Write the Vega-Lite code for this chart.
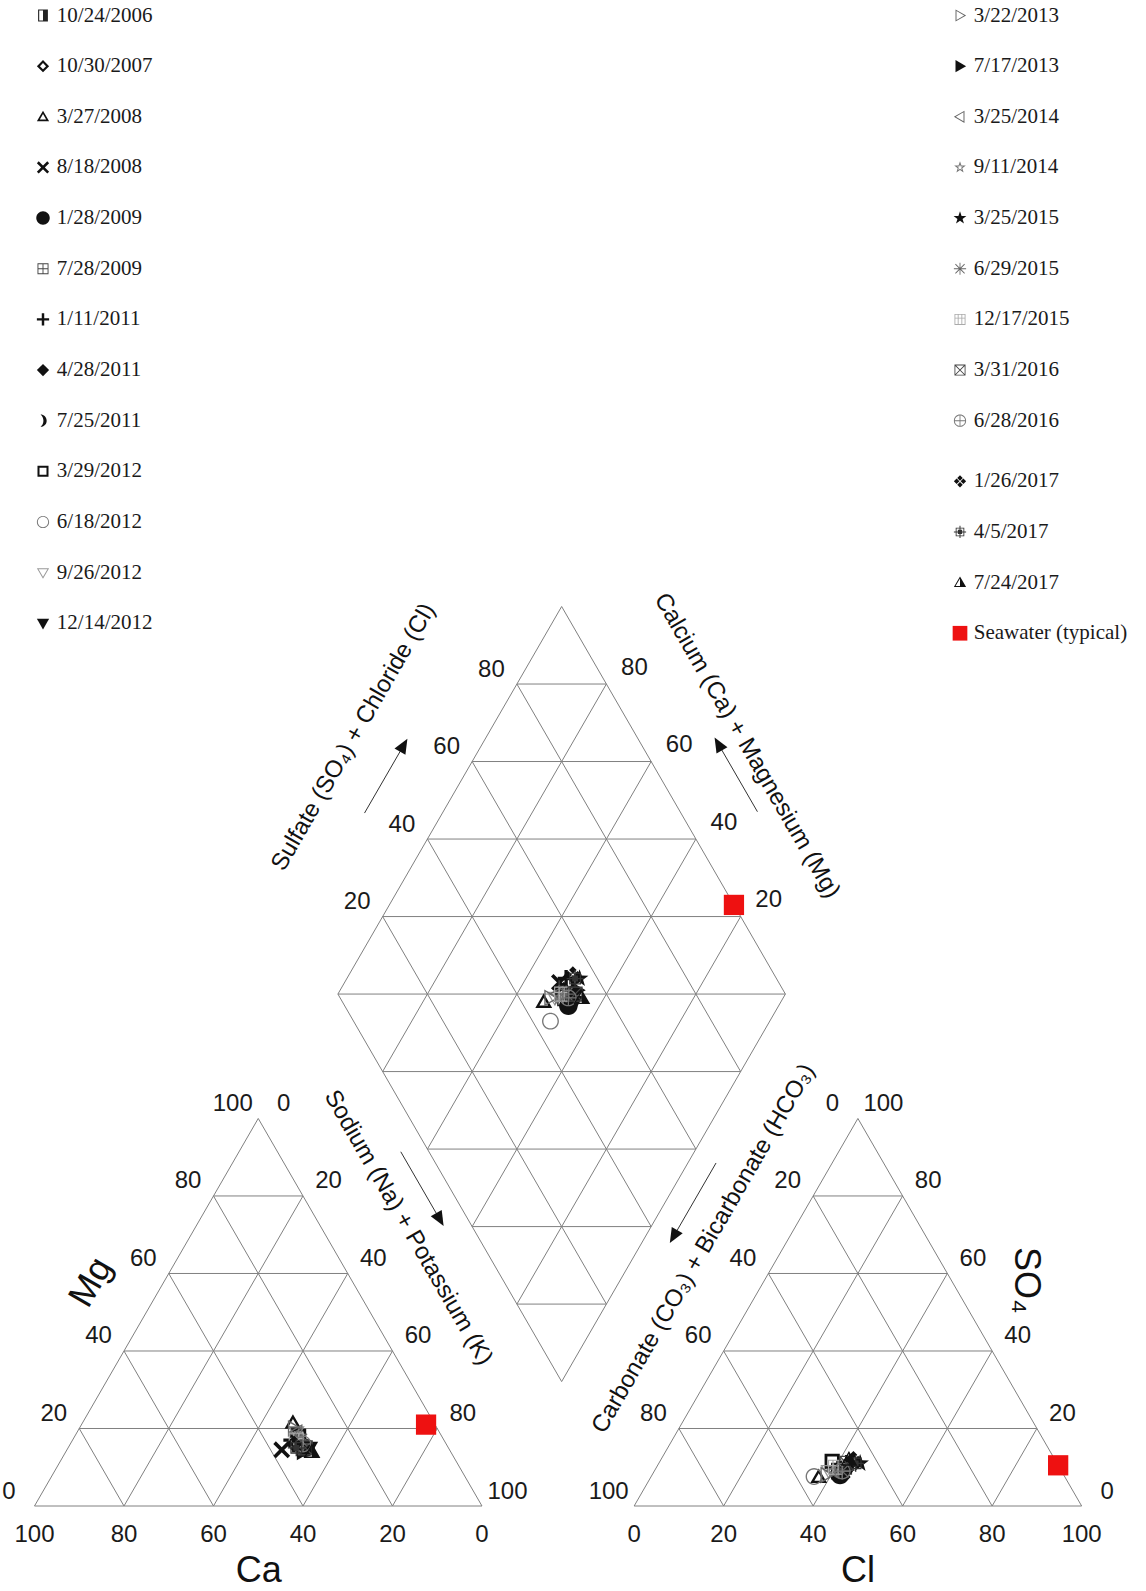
{
"$schema": "https://vega.github.io/schema/vega-lite/v6.json",
"width": 1146, "height": 1591,
"autosize": {"type": "none"},
"padding": 0,
"background": "white",
"config": {
  "view": {"stroke": null},
  "legend": {"columns": 1, "rowPadding": 28.65, "labelFont": "Liberation Serif", "labelFontSize": 21, "labelColor": "#1a1a1a", "symbolSize": 150, "symbolStrokeWidth": 0, "labelOffset": 3.3, "padding": 0, "labelLimit": 400, "symbolOpacity": 1, "gridAlign": "each"}
},
"resolve": {"scale": {"shape": "independent", "fill": "independent"}, "legend": {"shape": "independent", "fill": "independent"}},
"datasets": {
  "samples": [
    {"sample":"10/24/2006","ca":33,"mg":16,"na":51,"cl":41,"so4":9,"hco3":50},
    {"sample":"10/30/2007","ca":33,"mg":17,"na":50,"cl":41,"so4":10,"hco3":49},
    {"sample":"3/27/2008","ca":31.5,"mg":21.5,"na":47,"cl":37.5,"so4":7.5,"hco3":55},
    {"sample":"8/18/2008","ca":37.5,"mg":14.5,"na":48,"cl":42,"so4":9,"hco3":49},
    {"sample":"1/28/2009","ca":32,"mg":15,"na":53,"cl":42,"so4":8,"hco3":50},
    {"sample":"7/28/2009","ca":32,"mg":18,"na":50,"cl":42,"so4":10,"hco3":48},
    {"sample":"1/11/2011","ca":34,"mg":17,"na":49,"cl":42,"so4":11,"hco3":47},
    {"sample":"4/28/2011","ca":32,"mg":16,"na":52,"cl":42,"so4":10,"hco3":48},
    {"sample":"7/25/2011","ca":32,"mg":17,"na":51,"cl":43,"so4":10,"hco3":47},
    {"sample":"3/29/2012","ca":32,"mg":18,"na":50,"cl":38.5,"so4":11.5,"hco3":50},
    {"sample":"6/18/2012","ca":33,"mg":16,"na":51,"cl":36.4,"so4":7.6,"hco3":56},
    {"sample":"9/26/2012","ca":32,"mg":19,"na":49,"cl":39,"so4":9,"hco3":52},
    {"sample":"12/14/2012","ca":31,"mg":15,"na":54,"cl":42,"so4":10,"hco3":48},
    {"sample":"3/22/2013","ca":32,"mg":20,"na":48,"cl":39,"so4":8,"hco3":53},
    {"sample":"7/17/2013","ca":33,"mg":14,"na":53,"cl":43,"so4":11,"hco3":46},
    {"sample":"3/25/2014","ca":32,"mg":19,"na":49,"cl":40,"so4":9,"hco3":51},
    {"sample":"9/11/2014","ca":32,"mg":18,"na":50,"cl":40,"so4":9,"hco3":51},
    {"sample":"3/25/2015","ca":32,"mg":16,"na":52,"cl":45,"so4":11,"hco3":44},
    {"sample":"6/29/2015","ca":32,"mg":17,"na":51,"cl":42,"so4":9,"hco3":49},
    {"sample":"12/17/2015","ca":33,"mg":17,"na":50,"cl":40,"so4":10,"hco3":50},
    {"sample":"3/31/2016","ca":32,"mg":15,"na":53,"cl":42,"so4":11,"hco3":47},
    {"sample":"6/28/2016","ca":32,"mg":16,"na":52,"cl":42,"so4":9,"hco3":49},
    {"sample":"1/26/2017","ca":34,"mg":16,"na":50,"cl":43,"so4":12,"hco3":45},
    {"sample":"4/5/2017","ca":34,"mg":15,"na":51,"cl":44,"so4":11,"hco3":45},
    {"sample":"7/24/2017","ca":31,"mg":14,"na":55,"cl":42,"so4":12,"hco3":46},
    {"sample":"Seawater (typical)","ca":2,"mg":21,"na":77,"cl":89.5,"so4":10.5,"hco3":0}
  ],
  "grid": [
    {"p":"cat","f":"h","k":0},{"p":"cat","f":"h","k":20},{"p":"cat","f":"h","k":40},{"p":"cat","f":"h","k":60},{"p":"cat","f":"h","k":80},
    {"p":"cat","f":"a","k":0},{"p":"cat","f":"a","k":20},{"p":"cat","f":"a","k":40},{"p":"cat","f":"a","k":60},{"p":"cat","f":"a","k":80},
    {"p":"cat","f":"b","k":0},{"p":"cat","f":"b","k":20},{"p":"cat","f":"b","k":40},{"p":"cat","f":"b","k":60},{"p":"cat","f":"b","k":80},
    {"p":"an","f":"h","k":0},{"p":"an","f":"h","k":20},{"p":"an","f":"h","k":40},{"p":"an","f":"h","k":60},{"p":"an","f":"h","k":80},
    {"p":"an","f":"a","k":0},{"p":"an","f":"a","k":20},{"p":"an","f":"a","k":40},{"p":"an","f":"a","k":60},{"p":"an","f":"a","k":80},
    {"p":"an","f":"b","k":0},{"p":"an","f":"b","k":20},{"p":"an","f":"b","k":40},{"p":"an","f":"b","k":60},{"p":"an","f":"b","k":80},
    {"p":"dia","f":"u","k":0},{"p":"dia","f":"u","k":20},{"p":"dia","f":"u","k":40},{"p":"dia","f":"u","k":60},{"p":"dia","f":"u","k":80},{"p":"dia","f":"u","k":100},
    {"p":"dia","f":"v","k":0},{"p":"dia","f":"v","k":20},{"p":"dia","f":"v","k":40},{"p":"dia","f":"v","k":60},{"p":"dia","f":"v","k":80},{"p":"dia","f":"v","k":100},
    {"p":"dia","f":"dh","k":20},{"p":"dia","f":"dh","k":40},{"p":"dia","f":"dh","k":60},{"p":"dia","f":"dh","k":80},{"p":"dia","f":"dh","k":100},
    {"p":"dia","f":"dh","k":120},{"p":"dia","f":"dh","k":140},{"p":"dia","f":"dh","k":160},{"p":"dia","f":"dh","k":180}
  ],
  "ticks": [
    {"s":"catL","k":0},{"s":"catL","k":20},{"s":"catL","k":40},{"s":"catL","k":60},{"s":"catL","k":80},{"s":"catL","k":100},
    {"s":"catR","k":0},{"s":"catR","k":20},{"s":"catR","k":40},{"s":"catR","k":60},{"s":"catR","k":80},{"s":"catR","k":100},
    {"s":"catB","k":0},{"s":"catB","k":20},{"s":"catB","k":40},{"s":"catB","k":60},{"s":"catB","k":80},{"s":"catB","k":100},
    {"s":"anL","k":0},{"s":"anL","k":20},{"s":"anL","k":40},{"s":"anL","k":60},{"s":"anL","k":80},{"s":"anL","k":100},
    {"s":"anR","k":0},{"s":"anR","k":20},{"s":"anR","k":40},{"s":"anR","k":60},{"s":"anR","k":80},{"s":"anR","k":100},
    {"s":"anB","k":0},{"s":"anB","k":20},{"s":"anB","k":40},{"s":"anB","k":60},{"s":"anB","k":80},{"s":"anB","k":100},
    {"s":"diaL","k":20},{"s":"diaL","k":40},{"s":"diaL","k":60},{"s":"diaL","k":80},
    {"s":"diaR","k":20},{"s":"diaR","k":40},{"s":"diaR","k":60},{"s":"diaR","k":80}
  ]
},
"layer": [
  {
    "data": {"name": "grid"},
    "transform": [
      {"filter": "datum.p != 'dia'"},
      {"calculate": "datum.p == 'an' ? 134 : 0", "as": "ox"},
      {"calculate": "datum.f == 'h' ? datum.ox + 0.5*datum.k : datum.f == 'a' ? datum.ox + 100 - datum.k : datum.ox + datum.k", "as": "x1"},
      {"calculate": "datum.f == 'h' ? 0.8660254*datum.k : 0", "as": "y1"},
      {"calculate": "datum.f == 'h' ? datum.ox + 100 - 0.5*datum.k : datum.f == 'a' ? datum.ox + 50 - 0.5*datum.k : datum.ox + 50 + 0.5*datum.k", "as": "x2"},
      {"calculate": "datum.f == 'h' ? 0.8660254*datum.k : 0.8660254*(100 - datum.k)", "as": "y2"}
    ],
    "mark": {"type": "rule", "color": "#808080", "strokeWidth": 1},
    "encoding": {
      "x": {"field": "x1", "type": "quantitative", "scale": {"domain": [-7.709, 248.38], "nice": false, "zero": false}, "axis": null},
      "y": {"field": "y1", "type": "quantitative", "scale": {"domain": [-18.994, 336.54], "nice": false, "zero": false}, "axis": null},
      "x2": {"field": "x2"},
      "y2": {"field": "y2"}
    }
  },
  {
    "data": {"name": "grid"},
    "transform": [
      {"filter": "datum.p == 'dia'"},
      {"calculate": "datum.f == 'u' ? 117.8 + 0.5*datum.k : datum.f == 'v' ? 117.8 - 0.5*datum.k : 117.8 - 0.5*min(datum.k, 200 - datum.k)", "as": "x1"},
      {"calculate": "27.8 + 0.8660254*datum.k", "as": "y1"},
      {"calculate": "datum.f == 'u' ? 67.8 + 0.5*datum.k : datum.f == 'v' ? 167.8 - 0.5*datum.k : 117.8 + 0.5*min(datum.k, 200 - datum.k)", "as": "x2"},
      {"calculate": "datum.f == 'dh' ? 27.8 + 0.8660254*datum.k : 114.40254 + 0.8660254*datum.k", "as": "y2"}
    ],
    "mark": {"type": "rule", "color": "#808080", "strokeWidth": 1},
    "encoding": {
      "x": {"field": "x1", "type": "quantitative", "scale": {"domain": [-7.709, 248.38], "nice": false, "zero": false}, "axis": null},
      "y": {"field": "y1", "type": "quantitative", "scale": {"domain": [-18.994, 336.54], "nice": false, "zero": false}, "axis": null},
      "x2": {"field": "x2"},
      "y2": {"field": "y2"}
    }
  },
  {
    "data": {"name": "ticks"},
    "transform": [
      {"filter": "indexof(['catL','anL','diaL'], datum.s) >= 0"},
      {"calculate": "datum.s=='catL' ? 0.5*datum.k : datum.s=='anL' ? 184 - 0.5*datum.k : 67.8 + 0.5*datum.k", "as": "px"},
      {"calculate": "datum.s=='catL' ? 0.8660254*datum.k : datum.s=='anL' ? 0.8660254*(100 - datum.k) : 114.40254 + 0.8660254*datum.k", "as": "py"}
    ],
    "mark": {"type": "text", "font": "Liberation Sans", "fontSize": 24, "color": "#1a1a1a", "align": "center", "baseline": "middle", "dx": -25.5, "dy": -14.5},
    "encoding": {
      "x": {"field": "px", "type": "quantitative", "scale": {"domain": [-7.709, 248.38], "nice": false, "zero": false}, "axis": null},
      "y": {"field": "py", "type": "quantitative", "scale": {"domain": [-18.994, 336.54], "nice": false, "zero": false}, "axis": null},
      "text": {"field": "k", "type": "nominal"}
    }
  },
  {
    "data": {"name": "ticks"},
    "transform": [
      {"filter": "indexof(['catR','anR'], datum.s) >= 0"},
      {"calculate": "datum.s=='catR' ? 50 + 0.5*datum.k : 234 - 0.5*datum.k", "as": "px"},
      {"calculate": "datum.s=='catR' ? 0.8660254*(100 - datum.k) : 0.8660254*datum.k", "as": "py"}
    ],
    "mark": {"type": "text", "font": "Liberation Sans", "fontSize": 24, "color": "#1a1a1a", "align": "center", "baseline": "middle", "dx": 25.5, "dy": -14.5},
    "encoding": {
      "x": {"field": "px", "type": "quantitative", "scale": {"domain": [-7.709, 248.38], "nice": false, "zero": false}, "axis": null},
      "y": {"field": "py", "type": "quantitative", "scale": {"domain": [-18.994, 336.54], "nice": false, "zero": false}, "axis": null},
      "text": {"field": "k", "type": "nominal"}
    }
  },
  {
    "data": {"name": "ticks"},
    "transform": [
      {"filter": "datum.s == 'diaR'"},
      {"calculate": "167.8 - 0.5*datum.k", "as": "px"},
      {"calculate": "114.40254 + 0.8660254*datum.k", "as": "py"}
    ],
    "mark": {"type": "text", "font": "Liberation Sans", "fontSize": 24, "color": "#1a1a1a", "align": "center", "baseline": "middle", "dx": 28, "dy": -16.5},
    "encoding": {
      "x": {"field": "px", "type": "quantitative", "scale": {"domain": [-7.709, 248.38], "nice": false, "zero": false}, "axis": null},
      "y": {"field": "py", "type": "quantitative", "scale": {"domain": [-18.994, 336.54], "nice": false, "zero": false}, "axis": null},
      "text": {"field": "k", "type": "nominal"}
    }
  },
  {
    "data": {"name": "ticks"},
    "transform": [
      {"filter": "indexof(['catB','anB'], datum.s) >= 0"},
      {"calculate": "datum.s=='catB' ? 100 - datum.k : 134 + datum.k", "as": "px"},
      {"calculate": "0", "as": "py"}
    ],
    "mark": {"type": "text", "font": "Liberation Sans", "fontSize": 24, "color": "#1a1a1a", "align": "center", "baseline": "middle", "dy": 29},
    "encoding": {
      "x": {"field": "px", "type": "quantitative", "scale": {"domain": [-7.709, 248.38], "nice": false, "zero": false}, "axis": null},
      "y": {"field": "py", "type": "quantitative", "scale": {"domain": [-18.994, 336.54], "nice": false, "zero": false}, "axis": null},
      "text": {"field": "k", "type": "nominal"}
    }
  },
  {"data": {"values": [{}]}, "mark": {"type": "text", "text": "Ca", "font": "Liberation Sans", "fontSize": 36, "color": "#111", "align": "center", "baseline": "middle"},
   "encoding": {"x": {"datum": 50.1, "type": "quantitative", "scale": {"domain": [-7.709, 248.38], "nice": false, "zero": false}, "axis": null}, "y": {"datum": -14.6, "type": "quantitative", "scale": {"domain": [-18.994, 336.54], "nice": false, "zero": false}, "axis": null}}},
  {"data": {"values": [{}]}, "mark": {"type": "text", "text": "Cl", "font": "Liberation Sans", "fontSize": 36, "color": "#111", "align": "center", "baseline": "middle"},
   "encoding": {"x": {"datum": 184.0, "type": "quantitative", "scale": {"domain": [-7.709, 248.38], "nice": false, "zero": false}, "axis": null}, "y": {"datum": -14.6, "type": "quantitative", "scale": {"domain": [-18.994, 336.54], "nice": false, "zero": false}, "axis": null}}},
  {"data": {"values": [{}]}, "mark": {"type": "text", "text": "Mg", "font": "Liberation Sans", "fontSize": 36, "color": "#111", "align": "center", "baseline": "middle", "angle": -60},
   "encoding": {"x": {"datum": 12.6, "type": "quantitative", "scale": {"domain": [-7.709, 248.38], "nice": false, "zero": false}, "axis": null}, "y": {"datum": 50.0, "type": "quantitative", "scale": {"domain": [-18.994, 336.54], "nice": false, "zero": false}, "axis": null}}},
  {"data": {"values": [{}]}, "mark": {"type": "text", "text": "SO₄", "font": "Liberation Sans", "fontSize": 36, "color": "#111", "align": "center", "baseline": "middle", "angle": 90},
   "encoding": {"x": {"datum": 221.5, "type": "quantitative", "scale": {"domain": [-7.709, 248.38], "nice": false, "zero": false}, "axis": null}, "y": {"datum": 50.4, "type": "quantitative", "scale": {"domain": [-18.994, 336.54], "nice": false, "zero": false}, "axis": null}}},
  {"data": {"values": [{}]}, "mark": {"type": "text", "text": "Sulfate (SO₄) + Chloride (Cl)", "font": "Liberation Sans", "fontSize": 24, "color": "#111", "align": "center", "baseline": "middle", "angle": -60},
   "encoding": {"x": {"datum": 71.3, "type": "quantitative", "scale": {"domain": [-7.709, 248.38], "nice": false, "zero": false}, "axis": null}, "y": {"datum": 171.8, "type": "quantitative", "scale": {"domain": [-18.994, 336.54], "nice": false, "zero": false}, "axis": null}}},
  {"data": {"values": [{}]}, "mark": {"type": "text", "text": "Calcium (Ca) + Magnesium (Mg)", "font": "Liberation Sans", "fontSize": 24, "color": "#111", "align": "center", "baseline": "middle", "angle": 60},
   "encoding": {"x": {"datum": 159.2, "type": "quantitative", "scale": {"domain": [-7.709, 248.38], "nice": false, "zero": false}, "axis": null}, "y": {"datum": 169.9, "type": "quantitative", "scale": {"domain": [-18.994, 336.54], "nice": false, "zero": false}, "axis": null}}},
  {"data": {"values": [{}]}, "mark": {"type": "text", "text": "Sodium (Na) + Potassium (K)", "font": "Liberation Sans", "fontSize": 24, "color": "#111", "align": "center", "baseline": "middle", "angle": 60},
   "encoding": {"x": {"datum": 83.5, "type": "quantitative", "scale": {"domain": [-7.709, 248.38], "nice": false, "zero": false}, "axis": null}, "y": {"datum": 62.2, "type": "quantitative", "scale": {"domain": [-18.994, 336.54], "nice": false, "zero": false}, "axis": null}}},
  {"data": {"values": [{}]}, "mark": {"type": "text", "text": "Carbonate (CO₃) + Bicarbonate (HCO₃)", "font": "Liberation Sans", "fontSize": 24, "color": "#111", "align": "center", "baseline": "middle", "angle": -60},
   "encoding": {"x": {"datum": 149.5, "type": "quantitative", "scale": {"domain": [-7.709, 248.38], "nice": false, "zero": false}, "axis": null}, "y": {"datum": 57.5, "type": "quantitative", "scale": {"domain": [-18.994, 336.54], "nice": false, "zero": false}, "axis": null}}},
  {"data": {"values": [{}]}, "mark": {"type": "rule", "color": "#333", "strokeWidth": 1},
   "encoding": {"x": {"datum": 73.75, "type": "quantitative", "scale": {"domain": [-7.709, 248.38], "nice": false, "zero": false}, "axis": null}, "y": {"datum": 154.85, "type": "quantitative", "scale": {"domain": [-18.994, 336.54], "nice": false, "zero": false}, "axis": null}, "x2": {"datum": 81.75}, "y2": {"datum": 168.7}}},
  {"data": {"values": [{}]}, "mark": {"type": "rule", "color": "#333", "strokeWidth": 1},
   "encoding": {"x": {"datum": 161.55, "type": "quantitative", "scale": {"domain": [-7.709, 248.38], "nice": false, "zero": false}, "axis": null}, "y": {"datum": 155.15, "type": "quantitative", "scale": {"domain": [-18.994, 336.54], "nice": false, "zero": false}, "axis": null}, "x2": {"datum": 153.55}, "y2": {"datum": 169.0}}},
  {"data": {"values": [{}]}, "mark": {"type": "rule", "color": "#333", "strokeWidth": 1},
   "encoding": {"x": {"datum": 81.85, "type": "quantitative", "scale": {"domain": [-7.709, 248.38], "nice": false, "zero": false}, "axis": null}, "y": {"datum": 79.16, "type": "quantitative", "scale": {"domain": [-18.994, 336.54], "nice": false, "zero": false}, "axis": null}, "x2": {"datum": 89.85}, "y2": {"datum": 65.3}}},
  {"data": {"values": [{}]}, "mark": {"type": "rule", "color": "#333", "strokeWidth": 1},
   "encoding": {"x": {"datum": 152.3, "type": "quantitative", "scale": {"domain": [-7.709, 248.38], "nice": false, "zero": false}, "axis": null}, "y": {"datum": 76.65, "type": "quantitative", "scale": {"domain": [-18.994, 336.54], "nice": false, "zero": false}, "axis": null}, "x2": {"datum": 143.55}, "y2": {"datum": 61.5}}},
  {"data": {"values": [{}]}, "mark": {"type": "point", "shape": "M-1 -0.85L1 0L-1 0.85Z", "filled": true, "color": "#111", "size": 220, "opacity": 1, "strokeWidth": 0, "angle": -60},
   "encoding": {"x": {"datum": 82.5, "type": "quantitative", "scale": {"domain": [-7.709, 248.38], "nice": false, "zero": false}, "axis": null}, "y": {"datum": 170.0, "type": "quantitative", "scale": {"domain": [-18.994, 336.54], "nice": false, "zero": false}, "axis": null}}},
  {"data": {"values": [{}]}, "mark": {"type": "point", "shape": "M-1 -0.85L1 0L-1 0.85Z", "filled": true, "color": "#111", "size": 220, "opacity": 1, "strokeWidth": 0, "angle": -120},
   "encoding": {"x": {"datum": 152.8, "type": "quantitative", "scale": {"domain": [-7.709, 248.38], "nice": false, "zero": false}, "axis": null}, "y": {"datum": 170.3, "type": "quantitative", "scale": {"domain": [-18.994, 336.54], "nice": false, "zero": false}, "axis": null}}},
  {"data": {"values": [{}]}, "mark": {"type": "point", "shape": "M-1 -0.85L1 0L-1 0.85Z", "filled": true, "color": "#111", "size": 220, "opacity": 1, "strokeWidth": 0, "angle": 60},
   "encoding": {"x": {"datum": 90.6, "type": "quantitative", "scale": {"domain": [-7.709, 248.38], "nice": false, "zero": false}, "axis": null}, "y": {"datum": 64.0, "type": "quantitative", "scale": {"domain": [-18.994, 336.54], "nice": false, "zero": false}, "axis": null}}},
  {"data": {"values": [{}]}, "mark": {"type": "point", "shape": "M-1 -0.85L1 0L-1 0.85Z", "filled": true, "color": "#111", "size": 220, "opacity": 1, "strokeWidth": 0, "angle": 120},
   "encoding": {"x": {"datum": 142.8, "type": "quantitative", "scale": {"domain": [-7.709, 248.38], "nice": false, "zero": false}, "axis": null}, "y": {"datum": 60.2, "type": "quantitative", "scale": {"domain": [-18.994, 336.54], "nice": false, "zero": false}, "axis": null}}},
  {
    "data": {"name": "samples"},
    "transform": [
      {"filter": {"field": "sample", "oneOf": ["10/24/2006","10/30/2007","3/27/2008","8/18/2008","1/28/2009","7/28/2009","1/11/2011","4/28/2011","7/25/2011","3/29/2012","6/18/2012","9/26/2012","12/14/2012"]}},
      {"fold": ["na", "cl", "ca"], "as": ["proj", "val"]},
      {"calculate": "datum.proj == 'na' ? datum.na + 0.5*datum.mg : datum.proj == 'cl' ? 134 + datum.cl + 0.5*datum.so4 : 117.8 + 0.5*((datum.cl + datum.so4) - (datum.ca + datum.mg))", "as": "px"},
      {"calculate": "datum.proj == 'na' ? 0.8660254*datum.mg : datum.proj == 'cl' ? 0.8660254*datum.so4 : 27.8 + 0.8660254*((datum.cl + datum.so4) + (datum.ca + datum.mg))", "as": "py"}
    ],
    "mark": {"type": "point", "filled": true, "size": 285, "opacity": 1, "strokeWidth": 0},
    "encoding": {
      "x": {"field": "px", "type": "quantitative", "scale": {"domain": [-7.709, 248.38], "nice": false, "zero": false}, "axis": null},
      "y": {"field": "py", "type": "quantitative", "scale": {"domain": [-18.994, 336.54], "nice": false, "zero": false}, "axis": null},
      "shape": {"field": "sample", "type": "nominal",
        "scale": {
          "domain": ["10/24/2006","10/30/2007","3/27/2008","8/18/2008","1/28/2009","7/28/2009","1/11/2011","4/28/2011","7/25/2011","3/29/2012","6/18/2012","9/26/2012","12/14/2012"],
          "range": [
            "M0 -1L0.8 -1L0.8 1L0 1Z M-0.8 -1L0 -1L0 -0.82L-0.8 -0.82Z M-0.8 -1L-0.62 -1L-0.62 1L-0.8 1Z M-0.8 0.82L0 0.82L0 1L-0.8 1Z",
            "M0 -1L1 0L0 1L-1 0Z M0 -0.5L-0.5 0L0 0.5L0.5 0Z",
            "M0 -1L1 0.732L-1 0.732Z M0 -0.44L-0.515 0.452L0.515 0.452Z",
            "M-1 -0.7L-0.7 -1L1 0.7L0.7 1Z M0.7 -1L1 -0.7L-0.7 1L-1 0.7Z",
            "M1.1 0A1.1 1.1 0 0 1 -1.1 0A1.1 1.1 0 0 1 1.1 0Z",
            "M-0.9 -0.9L0.9 -0.9L0.9 -0.75L-0.9 -0.75Z M-0.9 0.75L0.9 0.75L0.9 0.9L-0.9 0.9Z M-0.9 -0.9L-0.75 -0.9L-0.75 0.9L-0.9 0.9Z M0.75 -0.9L0.9 -0.9L0.9 0.9L0.75 0.9Z M-0.9 -0.075L0.9 -0.075L0.9 0.075L-0.9 0.075Z M-0.075 -0.9L0.075 -0.9L0.075 0.9L-0.075 0.9Z",
            "M-1 -0.2L1 -0.2L1 0.2L-1 0.2Z M-0.2 -1L0.2 -1L0.2 1L-0.2 1Z",
            "M0 -1L1 0L0 1L-1 0Z",
            "M-0.4 -1A1 1 0 0 1 -0.4 1A1.3 1.3 0 0 0 -0.4 -1Z",
            "M-0.9 -0.9L0.9 -0.9L0.9 -0.57L-0.9 -0.57Z M-0.9 0.57L0.9 0.57L0.9 0.9L-0.9 0.9Z M-0.9 -0.9L-0.57 -0.9L-0.57 0.9L-0.9 0.9Z M0.57 -0.9L0.9 -0.9L0.9 0.9L0.57 0.9Z",
            "M-1 0A1 1 0 0 1 1 0L0.84 0A0.84 0.84 0 0 0 -0.84 0Z M1 0A1 1 0 0 1 -1 0L-0.84 0A0.84 0.84 0 0 0 0.84 0Z",
            "M-1 -0.732L1 -0.732L0 1Z M-0.723 -0.572L0 0.68L0.723 -0.572Z",
            "M-1 -0.732L1 -0.732L0 1Z"
          ]
        },
        "legend": {"title": null, "orient": "none", "legendX": 32.5, "legendY": 5}
      },
      "fill": {"field": "sample", "type": "nominal",
        "scale": {
          "domain": ["10/24/2006","10/30/2007","3/27/2008","8/18/2008","1/28/2009","7/28/2009","1/11/2011","4/28/2011","7/25/2011","3/29/2012","6/18/2012","9/26/2012","12/14/2012"],
          "range": ["#222222","#111111","#111111","#111111","#111111","#444444","#111111","#111111","#111111","#111111","#777777","#999999","#111111"]
        },
        "legend": {"title": null, "orient": "none", "legendX": 32.5, "legendY": 5}
      }
    }
  },
  {
    "data": {"name": "samples"},
    "transform": [
      {"filter": {"field": "sample", "oneOf": ["3/22/2013","7/17/2013","3/25/2014","9/11/2014","3/25/2015","6/29/2015","12/17/2015","3/31/2016","6/28/2016"]}},
      {"fold": ["na", "cl", "ca"], "as": ["proj", "val"]},
      {"calculate": "datum.proj == 'na' ? datum.na + 0.5*datum.mg : datum.proj == 'cl' ? 134 + datum.cl + 0.5*datum.so4 : 117.8 + 0.5*((datum.cl + datum.so4) - (datum.ca + datum.mg))", "as": "px"},
      {"calculate": "datum.proj == 'na' ? 0.8660254*datum.mg : datum.proj == 'cl' ? 0.8660254*datum.so4 : 27.8 + 0.8660254*((datum.cl + datum.so4) + (datum.ca + datum.mg))", "as": "py"}
    ],
    "mark": {"type": "point", "filled": true, "size": 285, "opacity": 1, "strokeWidth": 0},
    "encoding": {
      "x": {"field": "px", "type": "quantitative", "scale": {"domain": [-7.709, 248.38], "nice": false, "zero": false}, "axis": null},
      "y": {"field": "py", "type": "quantitative", "scale": {"domain": [-18.994, 336.54], "nice": false, "zero": false}, "axis": null},
      "shape": {"field": "sample", "type": "nominal",
        "scale": {
          "domain": ["3/22/2013","7/17/2013","3/25/2014","9/11/2014","3/25/2015","6/29/2015","12/17/2015","3/31/2016","6/28/2016"],
          "range": [
            "M-0.732 -1L1 0L-0.732 1Z M-0.572 -0.723L-0.572 0.723L0.68 0Z",
            "M-0.732 -1L1 0L-0.732 1Z",
            "M0.732 -1L0.732 1L-1 0Z M0.572 -0.723L-0.68 0L0.572 0.723Z",
            "M0 -1L0.235 -0.324L0.951 -0.309L0.38 0.124L0.588 0.809L0 0.4L-0.588 0.809L-0.38 0.124L-0.951 -0.309L-0.235 -0.324Z M0 -0.5L-0.118 -0.162L-0.476 -0.155L-0.19 0.062L-0.294 0.405L0 0.2L0.294 0.405L0.19 0.062L0.476 -0.155L0.118 -0.162Z",
            "M0 -1.1L0.259 -0.356L1.046 -0.34L0.418 0.136L0.647 0.89L0 0.44L-0.647 0.89L-0.418 0.136L-1.046 -0.34L-0.259 -0.356Z",
            "M-1 -0.07L1 -0.07L1 0.07L-1 0.07Z M-0.07 -1L0.07 -1L0.07 1L-0.07 1Z M-0.7 -0.8L0.8 0.7L0.7 0.8L-0.8 -0.7Z M0.7 -0.8L0.8 -0.7L-0.7 0.8L-0.8 0.7Z",
            "M-0.9 -0.9L0.9 -0.9L0.9 -0.76L-0.9 -0.76Z M-0.9 0.76L0.9 0.76L0.9 0.9L-0.9 0.9Z M-0.9 -0.9L-0.76 -0.9L-0.76 0.9L-0.9 0.9Z M0.76 -0.9L0.9 -0.9L0.9 0.9L0.76 0.9Z M-0.9 -0.27L0.9 -0.27L0.9 -0.13L-0.9 -0.13Z M-0.37 -0.9L-0.23 -0.9L-0.23 0.9L-0.37 0.9Z M0.23 -0.9L0.37 -0.9L0.37 0.9L0.23 0.9Z",
            "M-0.9 -0.9L0.9 -0.9L0.9 -0.76L-0.9 -0.76Z M-0.9 0.76L0.9 0.76L0.9 0.9L-0.9 0.9Z M-0.9 -0.9L-0.76 -0.9L-0.76 0.9L-0.9 0.9Z M0.76 -0.9L0.9 -0.9L0.9 0.9L0.76 0.9Z M-0.9 -0.8L-0.8 -0.9L0.9 0.8L0.8 0.9Z M0.8 -0.9L0.9 -0.8L-0.8 0.9L-0.9 0.8Z",
            "M-1 0A1 1 0 0 1 1 0L0.85 0A0.85 0.85 0 0 0 -0.85 0Z M1 0A1 1 0 0 1 -1 0L-0.85 0A0.85 0.85 0 0 0 0.85 0Z M-0.86 -0.07L0.86 -0.07L0.86 0.07L-0.86 0.07Z M-0.07 -0.86L0.07 -0.86L0.07 0.86L-0.07 0.86Z"
          ]
        },
        "legend": {"title": null, "orient": "none", "legendX": 949.5, "legendY": 5}
      },
      "fill": {"field": "sample", "type": "nominal",
        "scale": {
          "domain": ["3/22/2013","7/17/2013","3/25/2014","9/11/2014","3/25/2015","6/29/2015","12/17/2015","3/31/2016","6/28/2016"],
          "range": ["#666666","#111111","#666666","#777777","#111111","#666666","#aaaaaa","#444444","#777777"]
        },
        "legend": {"title": null, "orient": "none", "legendX": 949.5, "legendY": 5}
      }
    }
  },
  {
    "data": {"name": "samples"},
    "transform": [
      {"filter": {"field": "sample", "oneOf": ["1/26/2017","4/5/2017","7/24/2017","Seawater (typical)"]}},
      {"fold": ["na", "cl", "ca"], "as": ["proj", "val"]},
      {"calculate": "datum.proj == 'na' ? datum.na + 0.5*datum.mg : datum.proj == 'cl' ? 134 + datum.cl + 0.5*datum.so4 : 117.8 + 0.5*((datum.cl + datum.so4) - (datum.ca + datum.mg))", "as": "px"},
      {"calculate": "datum.proj == 'na' ? 0.8660254*datum.mg : datum.proj == 'cl' ? 0.8660254*datum.so4 : 27.8 + 0.8660254*((datum.cl + datum.so4) + (datum.ca + datum.mg))", "as": "py"}
    ],
    "mark": {"type": "point", "filled": true, "size": 285, "opacity": 1, "strokeWidth": 0},
    "encoding": {
      "x": {"field": "px", "type": "quantitative", "scale": {"domain": [-7.709, 248.38], "nice": false, "zero": false}, "axis": null},
      "y": {"field": "py", "type": "quantitative", "scale": {"domain": [-18.994, 336.54], "nice": false, "zero": false}, "axis": null},
      "shape": {"field": "sample", "type": "nominal",
        "scale": {
          "domain": ["1/26/2017","4/5/2017","7/24/2017","Seawater (typical)"],
          "range": [
            "M0 -1L0.45 -0.55L0 -0.1L-0.45 -0.55Z M0.55 -0.45L1 0L0.55 0.45L0.1 0Z M0 0.1L0.45 0.55L0 1L-0.45 0.55Z M-0.55 -0.45L-0.1 0L-0.55 0.45L-1 0Z",
            "M-1 -0.08L1 -0.08L1 0.08L-1 0.08Z M-0.08 -1L0.08 -1L0.08 1L-0.08 1Z M-0.7 -0.7L0.7 -0.7L0.7 -0.56L-0.7 -0.56Z M-0.7 0.56L0.7 0.56L0.7 0.7L-0.7 0.7Z M-0.7 -0.7L-0.56 -0.7L-0.56 0.7L-0.7 0.7Z M0.56 -0.7L0.7 -0.7L0.7 0.7L0.56 0.7Z M-0.35 -0.35L0.35 -0.35L0.35 0.35L-0.35 0.35Z",
            "M0 -1L1 0.732L0 0.732Z M0 -1L0 0.732L-1 0.732Z M0 -0.68L-0.723 0.572L0 0.572Z",
            "M-1.2 -1.2L1.2 -1.2L1.2 1.2L-1.2 1.2Z"
          ]
        },
        "legend": {"title": null, "orient": "none", "legendX": 949.5, "legendY": 470.8}
      },
      "fill": {"field": "sample", "type": "nominal",
        "scale": {
          "domain": ["1/26/2017","4/5/2017","7/24/2017","Seawater (typical)"],
          "range": ["#111111","#333333","#111111","#ee1111"]
        },
        "legend": {"title": null, "orient": "none", "legendX": 949.5, "legendY": 470.8}
      }
    }
  }
]
}
